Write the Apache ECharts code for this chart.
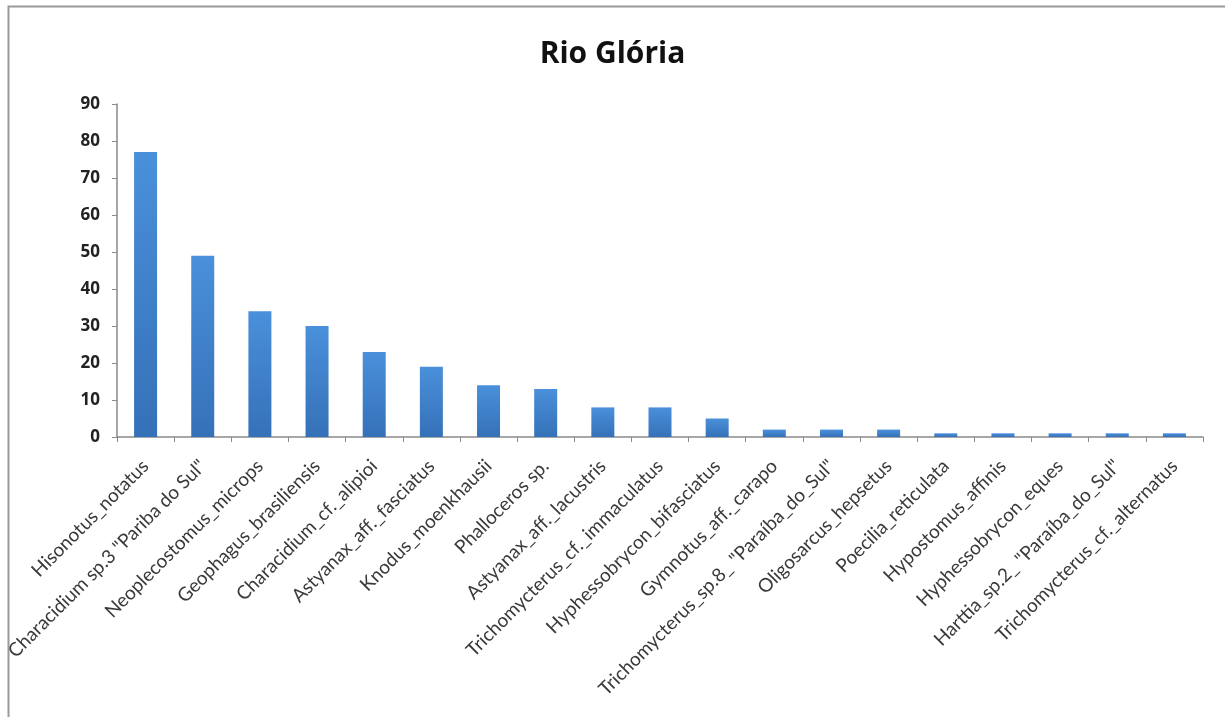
<!DOCTYPE html>
<html>
<head>
<meta charset="utf-8">
<script src="https://cdn.jsdelivr.net/npm/echarts@6/dist/echarts.min.js"></script>
<style>
  html, body { margin: 0; padding: 0; background: #fff; }
  #chart { width: 1225px; height: 717px; }
</style>
</head>
<body>
<div id="chart"></div>
<script>
// Species counted at Rio Glória
const species = [
  'Hisonotus_notatus',
  'Characidium sp.3 "Pariba do Sul"',
  'Neoplecostomus_microps',
  'Geophagus_brasiliensis',
  'Characidium_cf._alipioi',
  'Astyanax_aff._fasciatus',
  'Knodus_moenkhausii',
  'Phalloceros sp.',
  'Astyanax_aff._lacustris',
  'Trichomycterus_cf._immaculatus',
  'Hyphessobrycon_bifasciatus',
  'Gymnotus_aff._carapo',
  'Trichomycterus_sp.8_ "Paraíba_do_Sul"',
  'Oligosarcus_hepsetus',
  'Poecilia_reticulata',
  'Hypostomus_affinis',
  'Hyphessobrycon_eques',
  'Harttia_sp.2_ "Paraíba_do_Sul"',
  'Trichomycterus_cf._alternatus'
];
const counts = [77, 49, 34, 30, 23, 19, 14, 13, 8, 8, 5, 2, 2, 2, 1, 1, 1, 1, 1];
const yTicks = [0, 10, 20, 30, 40, 50, 60, 70, 80, 90];

const chart = echarts.init(document.getElementById('chart'), null, { renderer: 'canvas' });

chart.setOption({
  backgroundColor: '#ffffff',
  animation: false,
  title: {
    text: 'Rio Glória',
    left: 'center',
    top: 34,
    textStyle: {
      fontFamily: 'Open Sans',
      fontWeight: 'bold',
      fontSize: 30,
      color: '#111'
    }
  },
  graphic: [
    {
      type: 'polyline',
      shape: { points: [[8.5, 730], [8.5, 6.5], [1230, 6.5]] },
      style: { stroke: '#9a9a9a', lineWidth: 2, fill: null }
    }
  ],
  grid: { left: 117, right: 22, top: 104, bottom: 280, containLabel: false },
  xAxis: {
    type: 'category',
    data: species,
    axisLine: { lineStyle: { color: '#8a8a8a', width: 1.5 } },
    axisTick: { show: true, length: 5, alignWithLabel: false, lineStyle: { color: '#8a8a8a' } },
    axisLabel: {
      rotate: 45,
      interval: 0,
      margin: 26,
      fontFamily: 'Lato',
      fontSize: 19,
      color: '#3a3a3a'
    }
  },
  yAxis: {
    type: 'value',
    min: 0,
    max: 90,
    interval: 10,
    axisLine: { show: true, lineStyle: { color: '#8a8a8a', width: 1.5 } },
    axisTick: { show: true, length: 5, lineStyle: { color: '#8a8a8a' } },
    splitLine: { show: false },
    axisLabel: {
      margin: 17,
      fontFamily: 'Open Sans',
      fontWeight: 'bold',
      fontSize: 17,
      color: '#222',
      formatter: v => (yTicks.includes(v) ? String(v) : '')
    }
  },
  series: [{
    type: 'bar',
    data: counts,
    barWidth: 23,
    itemStyle: {
      color: new echarts.graphic.LinearGradient(0, 0, 0, 1, [
        { offset: 0, color: '#4a90da' },
        { offset: 1, color: '#3571b8' }
      ])
    }
  }]
});
</script>
</body>
</html>
